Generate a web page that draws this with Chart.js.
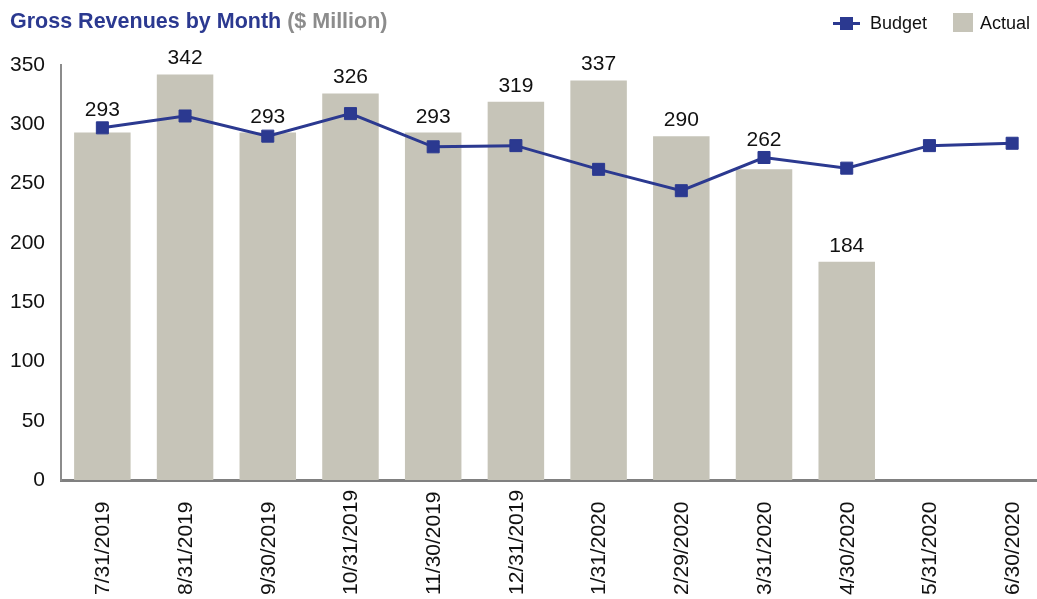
<!DOCTYPE html>
<html>
<head>
<meta charset="utf-8">
<script src="https://cdn.jsdelivr.net/npm/chart.js@4/dist/chart.umd.min.js"></script>
<style>
  html, body { margin: 0; padding: 0; background: #fff; overflow: hidden; }
  #wrap { position: relative; width: 1037px; height: 599px; overflow: hidden; font-family: "Liberation Sans", Arial, sans-serif; }
  #c { position: absolute; left: 0; top: 0; }
  .title { position: absolute; left: 10px; top: 11px; font-size: 21.5px; line-height: 21.5px; font-weight: bold; color: #2B3990; white-space: nowrap; }
  .title span { color: #8C8C8C; }
  .leg { position: absolute; top: 14px; font-size: 18px; line-height: 18px; color: #111; white-space: nowrap; }
  .legline { position: absolute; left: 833px; top: 22px; width: 27px; height: 3px; background: #2B3990; }
  .legmark { position: absolute; left: 840px; top: 17px; width: 13px; height: 13px; background: #2B3990; }
  .legbox { position: absolute; left: 953px; top: 13px; width: 20px; height: 19px; background: #C6C4B8; }
</style>
</head>
<body>
<div id="wrap">
  <canvas id="c" width="1063" height="599"></canvas>
  <div class="title">Gross Revenues by Month <span>($ Million)</span></div>
  <div class="legline"></div><div class="legmark"></div>
  <div class="leg" style="left:870px">Budget</div>
  <div class="legbox"></div>
  <div class="leg" style="left:980px">Actual</div>
</div>
<script>
const categories = ['7/31/2019','8/31/2019','9/30/2019','10/31/2019','11/30/2019','12/31/2019','1/31/2020','2/29/2020','3/31/2020','4/30/2020','5/31/2020','6/30/2020'];
const actualValues = [293, 342, 293, 326, 293, 319, 337, 290, 262, 184, null, null];
const budgetValues = [297, 307, 290, 309, 281, 282, 262, 244, 272, 263, 282, 284];
const yTicks = [0, 50, 100, 150, 200, 250, 300, 350];

const FONT = '"Liberation Sans", Arial, sans-serif';

const labelPlugin = {
  id: 'labels',
  afterDatasetsDraw(chart) {
    const ctx = chart.ctx;
    const barMeta = chart.getDatasetMeta(1);
    const lineMeta = chart.getDatasetMeta(0);
    ctx.save();
    ctx.font = '21px ' + FONT;
    ctx.fillStyle = '#111';
    ctx.textAlign = 'center';
    ctx.textBaseline = 'alphabetic';
    barMeta.data.forEach((bar, i) => {
      const v = actualValues[i];
      if (v === null || v === undefined) return;
      const pt = lineMeta.data[i];
      let y = bar.y - 10;
      if (pt && !pt.skip) {
        const mTop = pt.y - 6.5, mBot = pt.y + 6.5;
        if (mTop < y + 2 && mBot > y - 17) y = Math.min(y, pt.y - 11.5);
      }
      ctx.fillText(String(v), bar.x, y);
    });
    ctx.restore();
  },
  afterDraw(chart) {
    const ctx = chart.ctx;
    const xs = chart.scales.x;
    ctx.save();
    ctx.font = '21px ' + FONT;
    ctx.fillStyle = '#111';
    ctx.textAlign = 'left';
    ctx.textBaseline = 'middle';
    categories.forEach((lab, i) => {
      const x = xs.getPixelForValue(i);
      ctx.save();
      ctx.translate(x + 1, 595);
      ctx.rotate(-Math.PI / 2);
      ctx.fillText(lab, 0, 0);
      ctx.restore();
    });
    ctx.restore();
  }
};

new Chart(document.getElementById('c'), {
  data: {
    labels: categories,
    datasets: [
      {
        type: 'line',
        label: 'Budget',
        data: budgetValues,
        borderColor: '#2B3990',
        backgroundColor: '#2B3990',
        borderWidth: 3,
        tension: 0,
        pointStyle: 'rect',
        pointRadius: 8.5,
        pointBorderWidth: 1,
        pointBackgroundColor: '#2B3990',
        pointBorderColor: '#2B3990',
        order: 0
      },
      {
        type: 'bar',
        label: 'Actual',
        data: actualValues,
        backgroundColor: '#C6C4B8',
        borderWidth: 0,
        categoryPercentage: 1,
        barPercentage: 0.683,
        order: 1
      }
    ]
  },
  options: {
    responsive: false,
    animation: false,
    devicePixelRatio: 1,
    layout: { padding: { top: 65, left: 0, right: 0, bottom: 0 } },
    plugins: { legend: { display: false }, title: { display: false }, tooltip: { enabled: false } },
    scales: {
      x: {
        type: 'category',
        offset: true,
        grid: { display: false, drawTicks: false },
        border: { display: true, color: '#808080', width: 3 },
        ticks: { display: false },
        afterFit(scale) { scale.height = 119; }
      },
      y: {
        min: 0,
        max: 350,
        grid: { display: false, drawTicks: false },
        border: { display: true, color: '#8C8C8C', width: 2 },
        afterBuildTicks(scale) { scale.ticks = yTicks.map(v => ({ value: v })); },
        ticks: {
          padding: 16,
          color: '#111',
          font: { family: FONT, size: 21 }
        },
        afterFit(scale) { scale.width = 61; }
      }
    }
  },
  plugins: [labelPlugin]
});
</script>
</body>
</html>
